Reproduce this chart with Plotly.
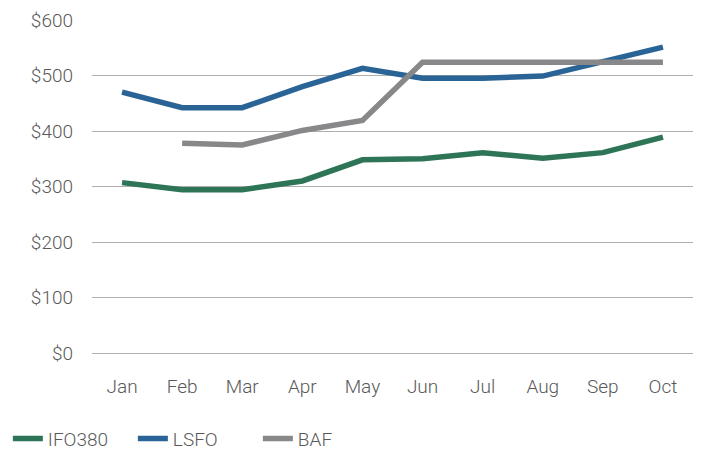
import plotly.graph_objects as go

months = ["Jan", "Feb", "Mar", "Apr", "May", "Jun", "Jul", "Aug", "Sep", "Oct"]
ifo380 = [307, 294, 294, 310, 348, 350, 361, 351, 361, 389]
lsfo = [470, 442, 442, 480, 513, 495, 495, 499, 525, 551]
baf = [None, 378, 375, 401, 419, 524, 524, 524, 524, 524]

series = [("IFO380", ifo380, "#2e7557"), ("LSFO", lsfo, "#2a6496"), ("BAF", baf, "#88888b")]

fig = go.Figure()
for name, vals, color in series:
    fig.add_trace(go.Scatter(x=months, y=vals, name=name, mode="lines",
                             line=dict(color=color, width=5.5), connectgaps=False))

font = dict(family="Roboto", size=19, color="#595959", weight=300)
fig.update_layout(
    width=707, height=452,
    margin=dict(l=92, r=14, t=20, b=99, autoexpand=False),
    paper_bgcolor="white", plot_bgcolor="white",
    font=font,
    showlegend=True,
    legend=dict(orientation="h", x=-0.14, xanchor="left", y=-0.2, yanchor="top",
                font=font, entrywidth=80, entrywidthmode="pixels", tracegroupgap=0),
    xaxis=dict(type="category", range=[-0.5, 9.5], showgrid=False, showline=False, zeroline=False,
               ticks="", ticklabelstandoff=20, tickfont=font, automargin=False),
    yaxis=dict(range=[0, 600], dtick=100, tickprefix="$", showgrid=True,
               gridcolor="#b0b0b0", gridwidth=1, zeroline=True, zerolinecolor="#b0b0b0",
               zerolinewidth=1, showline=False, ticks="", ticklabelstandoff=18, tickfont=font,
               automargin=False),
)
fig.write_html("out.html", config={"displayModeBar": False},
               post_script="document.body.style.margin='0';document.body.style.padding='0';")
